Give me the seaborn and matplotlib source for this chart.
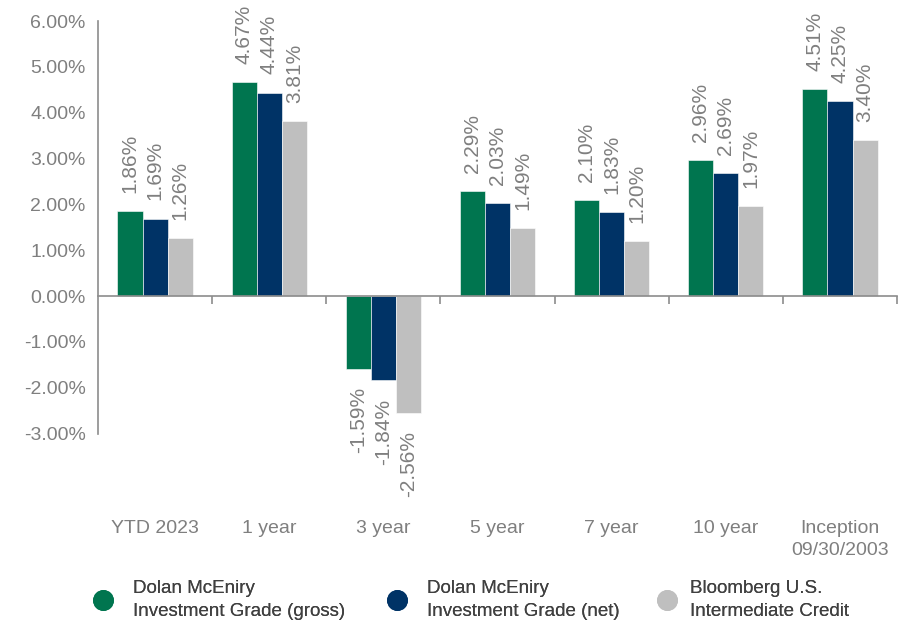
import pandas as pd
import seaborn as sns
import matplotlib.pyplot as plt
from matplotlib.lines import Line2D

periods = ['YTD 2023', '1 year', '3 year', '5 year', '7 year', '10 year', 'Inception\n09/30/2003']
series_names = ['Dolan McEniry\nInvestment Grade (gross)',
                'Dolan McEniry\nInvestment Grade (net)',
                'Bloomberg U.S.\nIntermediate Credit']
gross = [1.86, 4.67, -1.59, 2.29, 2.10, 2.96, 4.51]
net = [1.69, 4.44, -1.84, 2.03, 1.83, 2.69, 4.25]
bench = [1.26, 3.81, -2.56, 1.49, 1.20, 1.97, 3.40]
colors = ['#00754F', '#003366', '#BFBFBF']

df = pd.DataFrame({'period': periods * 3,
                   'series': [series_names[0]] * 7 + [series_names[1]] * 7 + [series_names[2]] * 7,
                   'value': gross + net + bench})

sns.set_style('white')
plt.rcParams['font.family'] = ['Liberation Sans', 'DejaVu Sans']
grey = '#7F7F7F'

fig = plt.figure(figsize=(9, 6.2), dpi=100)
ax = fig.add_axes([0.1089, 0.3008, 0.8878, 0.6653])

sns.barplot(data=df, x='period', y='value', hue='series', palette=colors,
            width=0.66, saturation=1, edgecolor='white', linewidth=0.4,
            legend=False, ax=ax)

for cont in ax.containers:
    vals = cont.datavalues
    ax.bar_label(cont, labels=[f'{v:.2f}%' for v in vals], rotation=90,
                 padding=13, fontsize=15, color=grey)

ax.set_xlim(-0.5, 6.5)
ax.set_ylim(-3, 6)
ax.set_yticks(range(-3, 7))
ax.set_yticklabels([f'{v:.2f}%' for v in range(-3, 7)], fontsize=14, color=grey)
ax.set_xticks([i + 0.5 for i in range(7)])
ax.set_xticklabels([])
ax.set_xlabel('')
ax.set_ylabel('')

for s in ['top', 'right']:
    ax.spines[s].set_visible(False)
ax.spines['bottom'].set_position(('data', 0))
for s in ['left', 'bottom']:
    ax.spines[s].set_color('#8C8C8C')
    ax.spines[s].set_linewidth(1.2)
ax.tick_params(axis='both', direction='out', length=5, width=1.2, color='#8C8C8C', pad=4)
ax.tick_params(axis='x', bottom=True, length=6)

for i, p in enumerate(periods):
    ax.text(i, -4.89, p, ha='center', va='top', fontsize=14, color=grey,
            clip_on=False, linespacing=1.35)

# one small legend per series, placed along the bottom
leg_x = [0.104, 0.4307, 0.7307]
leg_pad = [1.1, 1.1, 0.75]
for name, c, x, pad in zip(series_names, colors, leg_x, leg_pad):
    h = Line2D([], [], marker='o', linestyle='', markersize=14,
               markerfacecolor=c, markeredgecolor=c)
    leg = fig.legend([h], [name], loc='center left', bbox_to_anchor=(x, 0.0323),
                     frameon=False, fontsize=13.5, labelcolor='#404040',
                     handletextpad=pad, handlelength=1.0, borderpad=0,
                     borderaxespad=0)
    for t in leg.get_texts():
        t.set_linespacing(1.4)
    fig.add_artist(leg)

fig.savefig('out.png', dpi=100)
